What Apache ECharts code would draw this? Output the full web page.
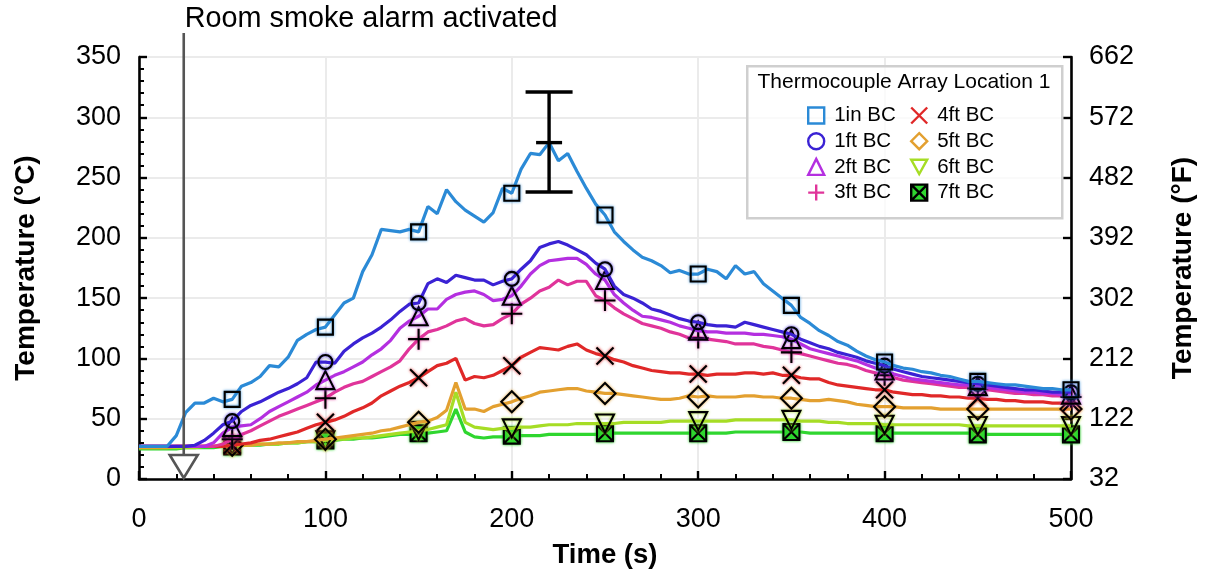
<!DOCTYPE html>
<html><head><meta charset="utf-8">
<script src="https://cdn.jsdelivr.net/npm/echarts@6/dist/echarts.min.js"></script>
<style>html,body{margin:0;padding:0;background:#fff}#c{width:1205px;height:574px}</style>
</head><body><div id="c"></div>
<script>
const timeS = [0,5,10,15,20,25,30,35,40,45,
50,55,60,65,70,75,80,85,90,95,
100,105,110,115,120,125,130,135,140,145,
150,155,160,165,170,175,180,185,190,195,
200,205,210,215,220,225,230,235,240,245,
250,255,260,265,270,275,280,285,290,295,
300,305,310,315,320,325,330,335,340,345,
350,355,360,365,370,375,380,385,390,395,
400,405,410,415,420,425,430,435,440,445,
450,455,460,465,470,475,480,485,490,495,
500];
const bc1in = [27,27,27,27,36,55,63,63,67,64,
66,77,80,85,94,93,101,115,120,124,
126,136,146,150,172,186,207,206,205,207,
205,226,220,240,230,223,218,213,221,241,
237,257,270,269,279,264,270,255,241,228,
219,205,197,190,184,181,177,171,173,170,
170,174,172,166,177,170,172,162,156,150,
144,134,129,123,119,114,111,106,102,99,
97,94,92,91,89,88,86,85,83,81,
81,80,79,78,78,77,76,75,75,74,
74];
const bc1ft = [27,27,27,27,27,27,28,32,38,45,
48,56,61,64,68,72,75,79,84,97,
97,96,106,112,117,121,126,132,139,145,
146,162,166,163,169,167,165,165,161,164,
166,174,181,192,195,197,194,190,186,179,
174,160,153,150,146,141,139,136,133,131,
130,128,127,127,126,130,128,126,124,122,
120,116,113,110,108,105,103,101,98,96,
94,91,89,87,85,84,83,82,81,80,
79,78,77,76,75,74,74,73,72,72,
72];
const bc2ft = [27,27,27,27,27,27,27,27,30,38,
43,44,45,50,56,60,64,68,72,78,
82,86,89,93,97,103,108,115,125,131,
135,141,141,149,153,155,156,153,148,149,
152,160,170,177,181,182,183,183,178,170,
165,153,146,140,135,134,132,130,127,125,
123,122,122,121,121,121,120,120,119,118,
116,112,108,106,104,102,100,98,95,92,
90,87,85,83,82,81,80,79,78,78,
77,76,75,74,73,72,72,71,71,70,
70];
const bc3ft = [27,27,27,27,27,27,27,27,27,29,
33,37,40,44,48,52,55,58,61,64,
67,72,76,79,81,85,89,93,98,108,
116,122,124,127,131,133,129,127,128,133,
137,145,150,156,159,165,161,164,164,152,
148,142,137,133,129,127,125,122,120,117,
117,116,115,114,112,112,112,110,109,107,
105,104,102,100,98,96,95,93,90,88,
86,84,82,81,80,79,78,77,76,76,
75,74,73,72,71,71,70,70,69,69,
68];
const bc4ft = [27,27,27,27,27,27,27,27,27,27,
28,29,30,32,33,35,37,39,42,45,
47,49,52,56,59,63,69,73,77,80,
84,89,94,96,100,82,85,84,86,90,
94,101,105,109,108,107,110,112,107,104,
102,99,97,94,92,90,89,88,88,87,
87,86,87,87,87,88,88,87,88,86,
86,84,83,83,80,78,77,76,75,74,
74,72,71,70,70,69,69,68,68,67,
67,66,66,65,65,64,64,64,63,63,
63];
const bc5ft = [26,26,26,26,27,27,27,27,27,27,
28,28,28,29,29,30,30,31,31,32,
33,34,35,36,37,38,40,41,43,45,
47,48,51,57,80,58,58,56,60,62,
64,67,69,72,73,74,75,75,73,72,
71,71,70,69,68,67,66,66,67,69,
68,69,68,68,68,69,69,68,68,67,
67,66,65,65,66,65,64,62,61,60,
60,60,59,59,59,59,58,58,58,58,
58,58,58,58,58,58,58,58,58,58,
58];
const bc6ft = [26,26,26,26,26,26,26,27,27,27,
28,28,28,29,29,29,30,30,31,31,
32,33,33,34,34,35,36,37,38,39,
40,41,43,45,72,47,43,42,41,42,
42,43,43,44,45,45,45,46,46,46,
46,46,47,47,47,47,47,48,48,48,
48,48,48,48,49,49,49,49,49,49,
49,48,48,48,47,47,46,46,46,46,
45,45,45,45,45,45,45,45,45,44,
44,44,44,44,44,44,44,44,44,44,
44];
const bc7ft = [25,25,25,25,25,26,26,26,26,27,
27,28,28,28,29,29,30,30,31,31,
32,32,33,33,34,34,35,36,37,37,
38,38,39,40,58,39,35,34,35,35,
36,36,36,36,37,37,37,37,37,37,
38,38,38,38,38,38,38,38,38,38,
38,38,38,38,39,39,39,39,39,39,
39,39,38,38,38,38,38,38,38,38,
38,38,38,38,38,38,38,38,38,38,
37,37,37,37,37,37,37,37,37,37,
37];
const seriesNames = ['1in BC','1ft BC','2ft BC','3ft BC','4ft BC','5ft BC','6ft BC','7ft BC'];
const errTime = [220];
const errLow = [238];
const errMean = [279];
const errHigh = [321];
const alarmTime = [24];
const alarmText = 'Room smoke alarm activated';
const legendTitle = 'Thermocouple Array Location 1';

const FONT = '"Liberation Sans", Arial, sans-serif';
const colors = ['#2b8ad6','#3a22d4','#b42fe0','#e0349a','#e02828','#e3a030','#a6dd25','#2fd62f'];
const syms = ['rect','circle','triangle','path://M5,0 L5,10 M0,5 L10,5','path://M0,0 L10,10 M10,0 L0,10','diamond','path://M0,0 L10,0 L5,9 Z','path://M0,0 L10,0 L10,10 L0,10 Z M0,0 L10,10 M10,0 L0,10'];
const sizes = [15,14,18,21,17,21,18,16];
const fills = ['transparent','transparent','transparent','transparent','transparent','transparent','transparent','#2fd62f'];
const vals = [bc1in,bc1ft,bc2ft,bc3ft,bc4ft,bc5ft,bc6ft,bc7ft];

const lineSeries = seriesNames.map((name,k)=>({
  name, type:'line', xAxisIndex:0, yAxisIndex:0,
  data: timeS.map((t,i)=>({value:[t, vals[k][i]], symbol: (t>0 && t%50===0) ? syms[k] : 'none'})),
  symbol: syms[k], symbolSize: sizes[k], showSymbol:true, showAllSymbol:true,
  lineStyle:{color: colors[k], width:3.2},
  itemStyle:{color: fills[k], borderColor:'#000', borderWidth:2.1, shadowColor: colors[k], shadowBlur:3},
  emphasis:{disabled:true}, z: 3 + (7-k)*0.01, clip:false
}));

const errSeries = {
  type:'custom', name:'errbar', xAxisIndex:0, yAxisIndex:0, clip:false, silent:true, z:10,
  data: errTime.map((t,i)=>[t, errLow[i], errMean[i], errHigh[i]]),
  renderItem(params, api){
    const x = api.value(0);
    const lo = api.coord([x, api.value(1)]);
    const mid = api.coord([x, api.value(2)]);
    const hi = api.coord([x, api.value(3)]);
    const st = {stroke:'#000', lineWidth:3.4};
    const cw = 23.5, mw = 13;
    return {type:'group', children:[
      {type:'line', shape:{x1:hi[0],y1:hi[1],x2:lo[0],y2:lo[1]}, style:st},
      {type:'line', shape:{x1:hi[0]-cw,y1:hi[1],x2:hi[0]+cw,y2:hi[1]}, style:st},
      {type:'line', shape:{x1:lo[0]-cw,y1:lo[1],x2:lo[0]+cw,y2:lo[1]}, style:st},
      {type:'line', shape:{x1:mid[0]-mw,y1:mid[1],x2:mid[0]+mw,y2:mid[1]}, style:st}
    ]};
  }
};

const alarmSeries = {
  type:'custom', name:'alarm', xAxisIndex:0, yAxisIndex:0, clip:false, silent:true, z:9,
  data: alarmTime.map(t=>[t,0]),
  renderItem(params, api){
    const p = api.coord([api.value(0), 0]);
    const top = params.coordSys.y;
    const st = {stroke:'#555', lineWidth:2.6};
    return {type:'group', children:[
      {type:'line', shape:{x1:p[0],y1:top-24,x2:p[0],y2:p[1]-24}, style:st},
      {type:'polygon', shape:{points:[[p[0]-14,p[1]-24],[p[0]+14,p[1]-24],[p[0],p[1]-1]]}, style:{fill:'#fff', stroke:'#555', lineWidth:2.6}},
      {type:'text', x:p[0]+1, y:top-38, style:{text:alarmText, font:'28.8px '+FONT, fill:'#000', align:'left', verticalAlign:'middle'}}
    ]};
  }
};

const legendCommon = {
  orient:'vertical', itemWidth:16, itemHeight:16, itemGap:4.7, padding:0,
  textStyle:{fontFamily:FONT, fontSize:20.5, color:'#000', padding:[0,0,0,5]}, selectedMode:false
};
const legendItem = k => ({name:seriesNames[k], icon:syms[k], itemStyle:{color: fills[k], borderColor: k===7 ? '#000' : colors[k], borderWidth:2.4}});

const axisFontSize = 27;
const option = {
  animation:false,
  backgroundColor:'#fff',
  grid:{left:139, right:132, top:57, bottom:94},
  xAxis:[{type:'value', min:0, max:500, interval:100,
    axisLine:{show:true, lineStyle:{color:'#000', width:2.6}},
    axisTick:{show:true, inside:true, length:8, lineStyle:{color:'#000', width:2.4}},
    minorTick:{show:true, splitNumber:5, length:5, lineStyle:{color:'#000', width:2}},
    splitLine:{show:true, lineStyle:{color:'#ebebeb', width:2}},
    axisLabel:{fontFamily:FONT, fontSize:axisFontSize, color:'#000', margin:27},
    name:'Time (s)', nameLocation:'middle', nameGap:62,
    nameTextStyle:{fontFamily:FONT, fontSize:27.5, fontWeight:'bold', color:'#000'}
  }],
  yAxis:[{type:'value', min:0, max:350, interval:50, position:'left',
    axisLine:{show:true, lineStyle:{color:'#000', width:2.6}},
    axisTick:{show:true, inside:true, length:8, lineStyle:{color:'#000', width:2.4}},
    minorTick:{show:true, splitNumber:5, length:5, lineStyle:{color:'#000', width:2}},
    splitLine:{show:true, lineStyle:{color:'#ebebeb', width:2}},
    axisLabel:{fontFamily:FONT, fontSize:axisFontSize, color:'#000', margin:18},
    name:'Temperature (°C)', nameLocation:'middle', nameGap:99,
    nameTextStyle:{fontFamily:FONT, fontSize:28, fontWeight:'bold', color:'#000'}
  },{type:'value', min:0, max:350, interval:50, position:'right',
    axisLine:{show:true, lineStyle:{color:'#000', width:2.6}},
    axisTick:{show:true, inside:true, length:8, lineStyle:{color:'#000', width:2.4}},
    splitLine:{show:false},
    axisLabel:{fontFamily:FONT, fontSize:axisFontSize, color:'#000', margin:18, formatter:v=>String(Math.round(v*1.8+32))},
    name:'Temperature (°F)', nameLocation:'middle', nameGap:98,
    nameTextStyle:{fontFamily:FONT, fontSize:28, fontWeight:'bold', color:'#000'}
  }],
  legend:[
    Object.assign({left:807, top:105, data:[0,1,2,3].map(legendItem)}, legendCommon),
    Object.assign({left:910, top:105, data:[4,5,6,7].map(legendItem)}, legendCommon)
  ],
  graphic:[
    {type:'rect', left:746, top:65, z:1, shape:{width:315, height:152}, style:{fill:'rgba(255,255,255,0.75)', stroke:'#cfcfcf', lineWidth:2.5}},
    {type:'text', z:5, x:904, y:82, style:{text:legendTitle, font:'21px '+FONT, fill:'#000', align:'center', verticalAlign:'middle'}}
  ],
  series:[...lineSeries, errSeries, alarmSeries]
};
const chart = echarts.init(document.getElementById('c'));
chart.setOption(option);
</script></body></html>
